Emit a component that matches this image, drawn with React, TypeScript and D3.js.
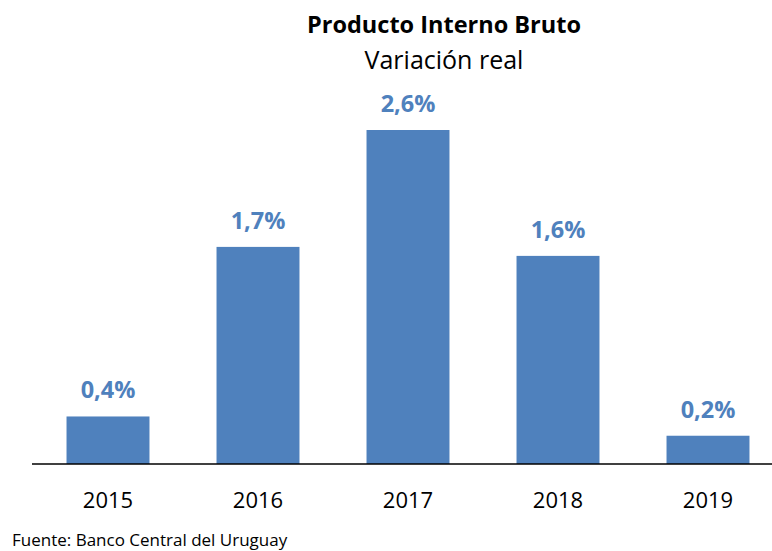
import React from "react";
import * as d3 from "d3";

const years = ["2015", "2016", "2017", "2018", "2019"];
const values = [0.37, 1.69, 2.6, 1.62, 0.22];
const labels = ["0,4%", "1,7%", "2,6%", "1,6%", "0,2%"];

const W = 772;
const H = 551;
const FONT = "'Open Sans', sans-serif";
const BLUE = "#4F81BD";

export default function App() {
  const baseline = 464;
  const x = d3
    .scaleBand<string>()
    .domain(years)
    .range([33, 783])
    .paddingInner(0.447)
    .paddingOuter(0.2235);
  const y = d3.scaleLinear().domain([0, 2.6]).range([baseline, 130]);

  return (
    <svg
      width={W}
      height={H}
      style={{ position: "absolute", left: 0, top: 0, background: "#fff" }}
    >
      <text x={444} y={33} textAnchor="middle" fontFamily={FONT} fontWeight={700} fontSize={23.5} fill="#000">
        Producto Interno Bruto
      </text>
      <text x={444} y={69} textAnchor="middle" fontFamily={FONT} fontSize={25} fill="#000">
        Variación real
      </text>
      {years.map((yr, i) => (
        <g key={yr}>
          <rect
            x={x(yr)!}
            y={y(values[i])}
            width={x.bandwidth()}
            height={baseline - y(values[i])}
            fill={BLUE}
          />
          <text
            x={x(yr)! + x.bandwidth() / 2}
            y={y(values[i]) - 18}
            textAnchor="middle"
            fontFamily={FONT}
            fontWeight={700}
            fontSize={23.5}
            fill={BLUE}
          >
            {labels[i]}
          </text>
          <text
            x={x(yr)! + x.bandwidth() / 2}
            y={508}
            textAnchor="middle"
            fontFamily={FONT}
            fontSize={22}
            fill="#000"
          >
            {yr}
          </text>
        </g>
      ))}
      <line x1={32} x2={W} y1={baseline} y2={baseline} stroke="#000" strokeWidth={1.5} />
      <text x={12} y={546} fontFamily={FONT} fontSize={17} fill="#000">
        Fuente: Banco Central del Uruguay
      </text>
    </svg>
  );
}
